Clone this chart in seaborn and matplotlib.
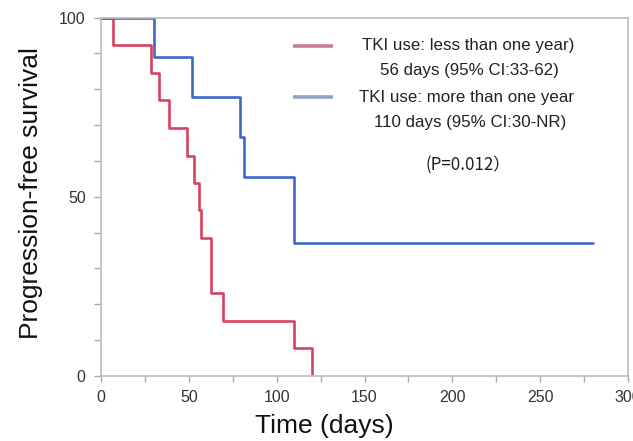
import matplotlib
matplotlib.use("Agg")
import matplotlib.pyplot as plt
import seaborn as sns
import pandas as pd

# Kaplan-Meier step points
less_days = [0, 7, 28.5, 33, 38.5, 49, 53, 56, 57, 62.5, 69.5, 110, 120]
less_surv = [100, 92.3, 84.6, 76.9, 69.2, 61.5, 53.8, 46.2, 38.5, 23.1, 15.4, 7.7, 0]
more_days = [0, 30, 52, 79, 81.5, 110, 280]
more_surv = [100, 88.9, 77.8, 66.7, 55.6, 37.0, 37.0]

groups = ["TKI use: less than one year)", "TKI use: more than one year"]
medians = ["56 days (95% CI:33-62)", "110 days (95% CI:30-NR)"]
p_text = "(P=0.012\uff09"
x_ticks = [0, 50, 100, 150, 200, 250, 300]
y_ticks = [0, 50, 100]

curve_colors = {groups[0]: "#D8435F", groups[1]: "#3D69C6"}
key_colors = ["#C98090", "#8EA2C8"]

df = pd.concat([
    pd.DataFrame({"time": less_days, "surv": less_surv, "group": groups[0]}),
    pd.DataFrame({"time": more_days, "surv": more_surv, "group": groups[1]}),
])

sns.set_style("white")
plt.rcParams["font.family"] = ["Liberation Sans", "DejaVu Sans"]

fig = plt.figure(figsize=(6.33, 4.41), dpi=100)
ax = fig.add_axes([0.1596, 0.1474, 0.8325, 0.8129])

sns.lineplot(data=df, x="time", y="surv", hue="group", palette=curve_colors,
             drawstyle="steps-post", linewidth=1.9, legend=False, ax=ax,
             estimator=None, sort=False)

ax.set_xlim(0, 300)
ax.set_ylim(0, 100)
ax.set_xticks(x_ticks)
ax.set_xticks(range(25, 300, 50), minor=True)
ax.set_yticks(y_ticks)
ax.set_yticks(range(0, 101, 10), minor=True)
ax.tick_params(axis="both", which="both", colors="#AAAAAA", labelcolor="#333333",
               labelsize=11.5, direction="out")
ax.tick_params(axis="x", which="both", length=4, width=1, pad=6, bottom=True)
ax.tick_params(axis="y", which="both", length=5, width=1, pad=6, left=True)
for s in ax.spines.values():
    s.set_color("#BBBBBB")
    s.set_linewidth(1.2)

ax.set_xlabel("Time (days)", fontsize=19, color="#111111")
ax.xaxis.set_label_coords(0.423, -0.105)
ax.set_ylabel("Progression-free survival", fontsize=19, color="#111111")
ax.yaxis.set_label_coords(-0.11, 0.51)

# legend keys and text, placed in axes fraction
tr = ax.transAxes
ax.plot([0.364, 0.440], [0.920, 0.920], color=key_colors[0], lw=2.6, transform=tr,
        solid_capstyle="butt")
ax.plot([0.364, 0.440], [0.778, 0.778], color=key_colors[1], lw=2.6, transform=tr,
        solid_capstyle="butt")
fs = 12.2
ax.text(0.696, 0.923, groups[0], transform=tr, ha="center", va="center",
        fontsize=fs, color="#222222")
ax.text(0.700, 0.851, medians[0], transform=tr, ha="center", va="center",
        fontsize=fs, color="#222222")
ax.text(0.694, 0.778, groups[1], transform=tr, ha="center", va="center",
        fontsize=fs, color="#222222")
ax.text(0.700, 0.706, medians[1], transform=tr, ha="center", va="center",
        fontsize=fs, color="#222222")
ax.text(0.696, 0.588, p_text, transform=tr, ha="center", va="center",
        fontsize=fs, color="#222222", family=["Noto Sans CJK SC", "DejaVu Sans"])

fig.savefig("out.png", dpi=100)
